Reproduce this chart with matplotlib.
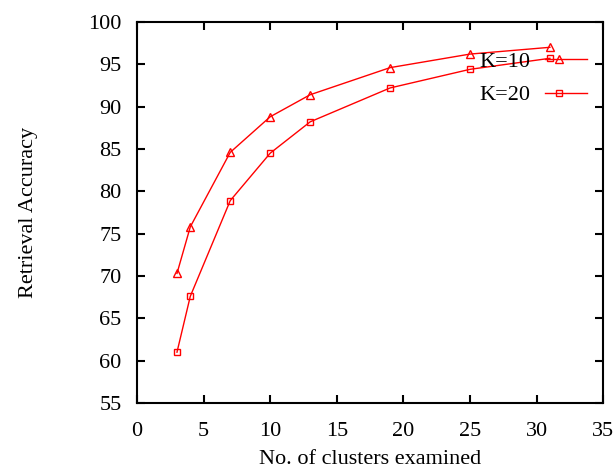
import matplotlib
matplotlib.use("Agg")
import matplotlib.pyplot as plt
from matplotlib.legend_handler import HandlerLine2D

# clusters examined vs retrieval accuracy
clusters = [3, 4, 7, 10, 13, 19, 25, 31]
acc_k10 = [70.3, 75.8, 84.6, 88.8, 91.4, 94.6, 96.2, 97.0]
acc_k20 = [61.0, 67.6, 78.9, 84.5, 88.2, 92.2, 94.4, 95.7]

x_ticks = [0, 5, 10, 15, 20, 25, 30, 35]
y_ticks = [55, 60, 65, 70, 75, 80, 85, 90, 95, 100]


# gnuplot puts the key marker a bit left of the sample's middle
class KeyMarker(HandlerLine2D):
    def create_artists(self, legend, orig_handle, xdescent, ydescent,
                       width, height, fontsize, trans):
        arts = super().create_artists(legend, orig_handle, xdescent, ydescent,
                                      width, height, fontsize, trans)
        line = arts[0]
        xd = list(line.get_xdata())
        x0, x1 = xd[0], xd[-1]
        line.set_xdata([x0, x0 + (x1 - x0) * 0.33, x1])
        return arts


plt.rcParams['font.family'] = ['Liberation Serif', 'DejaVu Serif']
plt.rcParams['font.size'] = 16

fig = plt.figure(figsize=(6.15, 4.74), dpi=100)
ax = fig.add_axes([0.2228, 0.1498, 0.758, 0.804])

l1, = ax.plot(clusters, acc_k10, color='red', lw=1, marker='^', ms=6,
              mfc='none', mec='red', mew=1, label='K=10')
l2, = ax.plot(clusters, acc_k20, color='red', lw=1, marker='s', ms=5,
              mfc='none', mec='red', mew=1, label='K=20')

ax.set_xlim(0, 35)
ax.set_ylim(55, 100)
ax.set_xticks(x_ticks)
ax.set_yticks(y_ticks)
ax.tick_params(direction='in', length=6, width=1.5, top=True, right=True)
ax.tick_params(axis='y', pad=11)
ax.tick_params(axis='x', pad=14)
for s in ax.spines.values():
    s.set_linewidth(1.5)

ax.set_xlabel('No. of clusters examined', labelpad=6)
ax.set_ylabel('Retrieval Accuracy', labelpad=36)

ax.legend(loc='upper right', frameon=False, markerfirst=False, handlelength=1.9,
          borderaxespad=0, borderpad=0, labelspacing=0.57, handletextpad=0.65,
          bbox_to_anchor=(0.9657, 0.922),
          handler_map={l1: KeyMarker(numpoints=1), l2: KeyMarker(numpoints=1)})

fig.savefig('out.png', dpi=100)
